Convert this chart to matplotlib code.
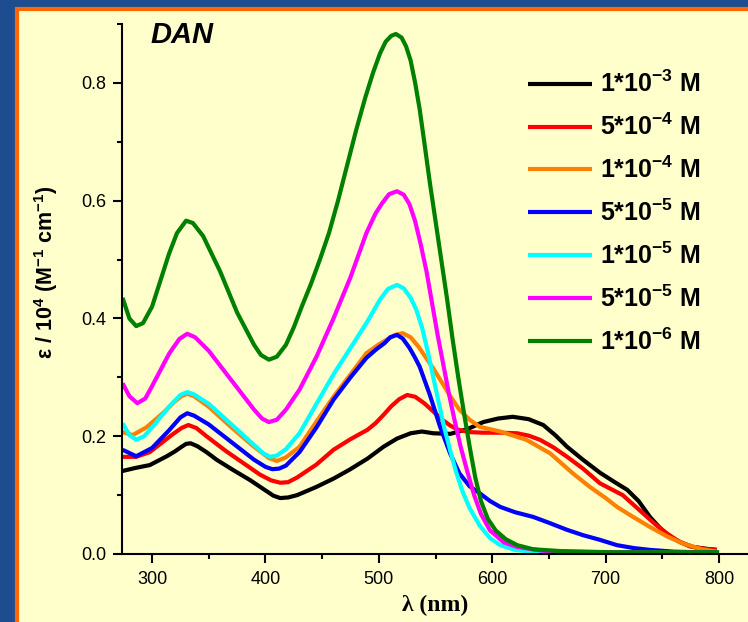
import numpy as np
import matplotlib
matplotlib.use("Agg")
import matplotlib.pyplot as plt
from matplotlib.patches import Rectangle
from matplotlib.ticker import MultipleLocator

plt.rcParams['font.family'] = ['Liberation Sans', 'DejaVu Sans']
plt.rcParams['mathtext.fontset'] = 'custom'
plt.rcParams['mathtext.rm'] = 'Liberation Sans'
plt.rcParams['mathtext.bf'] = 'Liberation Sans:bold'
plt.rcParams['mathtext.default'] = 'bf'

#===========================================
# spectra (wavelength in nm, eps / 10^4)
wl_1e3 = [274, 285, 298, 313, 320, 326, 330, 334, 340, 348, 357, 372, 386, 400, 407, 413, 420,
          428, 445, 460, 474, 490, 504, 516, 528, 538, 548, 563, 578, 592, 605, 618, 632, 645,
          656, 666, 680, 695, 708, 719, 729, 739, 748, 757, 767, 777, 788, 798]
eps_1e3 = [0.141, 0.146, 0.151, 0.166, 0.174, 0.182, 0.187, 0.188, 0.183, 0.173, 0.160, 0.142,
           0.126, 0.108, 0.099, 0.095, 0.096, 0.100, 0.114, 0.128, 0.143, 0.162, 0.182, 0.196,
           0.205, 0.208, 0.205, 0.204, 0.212, 0.224, 0.230, 0.233, 0.229, 0.219, 0.201, 0.182,
           0.160, 0.138, 0.122, 0.109, 0.090, 0.063, 0.044, 0.029, 0.019, 0.012, 0.009, 0.007]

wl_5e4 = [274, 286, 298, 308, 318, 326, 332, 339, 348, 365, 380, 395, 405, 413, 420, 428, 445,
          460, 475, 490, 497, 504, 511, 518, 525, 532, 540, 548, 556, 563, 570, 580, 592, 607,
          622, 632, 642, 654, 666, 680, 695, 715, 733, 744, 754, 764, 774, 786, 798]
eps_5e4 = [0.165, 0.165, 0.173, 0.188, 0.203, 0.214, 0.219, 0.214, 0.200, 0.175, 0.155, 0.135,
           0.125, 0.121, 0.122, 0.130, 0.152, 0.177, 0.195, 0.211, 0.222, 0.236, 0.251, 0.263,
           0.270, 0.267, 0.256, 0.242, 0.228, 0.218, 0.211, 0.207, 0.206, 0.206, 0.205, 0.201,
           0.194, 0.181, 0.165, 0.145, 0.120, 0.100, 0.069, 0.050, 0.035, 0.022, 0.013, 0.009,
           0.007]

wl_1e4 = [274, 283, 295, 310, 320, 326, 331, 337, 350, 370, 390, 403, 410, 418, 430, 445, 460,
          475, 489, 500, 507, 514, 521, 528, 535, 542, 548, 556, 564, 571, 580, 589, 607, 630,
          651, 671, 686, 700, 710, 725, 739, 754, 768, 785, 798]
eps_1e4 = [0.207, 0.202, 0.215, 0.240, 0.259, 0.268, 0.272, 0.268, 0.250, 0.215, 0.182, 0.163,
           0.158, 0.164, 0.182, 0.225, 0.267, 0.305, 0.341, 0.356, 0.364, 0.372, 0.375, 0.368,
           0.352, 0.332, 0.315, 0.290, 0.265, 0.245, 0.228, 0.216, 0.208, 0.194, 0.171, 0.137,
           0.114, 0.095, 0.080, 0.062, 0.046, 0.030, 0.018, 0.008, 0.004]

wl_5e5 = [274, 286, 300, 315, 325, 331, 337, 350, 370, 390, 400, 406, 412, 418, 430, 445, 460,
          475, 489, 498, 505, 510, 516, 521, 527, 532, 536, 545, 554, 563, 571, 580, 589, 598,
          607, 620, 636, 650, 666, 680, 695, 710, 725, 739, 760, 780, 798]
eps_5e5 = [0.177, 0.166, 0.180, 0.210, 0.232, 0.239, 0.235, 0.220, 0.190, 0.160, 0.148, 0.144,
           0.145, 0.150, 0.173, 0.215, 0.262, 0.300, 0.333, 0.348, 0.358, 0.368, 0.372, 0.366,
           0.350, 0.333, 0.318, 0.270, 0.216, 0.170, 0.137, 0.115, 0.103, 0.090, 0.080, 0.071,
           0.063, 0.053, 0.041, 0.032, 0.024, 0.015, 0.010, 0.007, 0.004, 0.003, 0.003]

wl_1e5 = [274, 280, 286, 293, 300, 315, 325, 331, 337, 350, 370, 390, 398, 404, 410, 418, 430,
          445, 460, 475, 489, 501, 508, 516, 522, 528, 533, 538, 543, 548, 553, 558, 563, 568,
          574, 580, 589, 598, 607, 620, 640, 700, 800]
eps_1e5 = [0.222, 0.202, 0.194, 0.200, 0.215, 0.250, 0.270, 0.275, 0.271, 0.255, 0.220, 0.185,
           0.171, 0.165, 0.167, 0.178, 0.205, 0.255, 0.305, 0.350, 0.392, 0.432, 0.450, 0.457,
           0.451, 0.435, 0.415, 0.385, 0.345, 0.300, 0.255, 0.212, 0.175, 0.140, 0.105, 0.078,
           0.048, 0.027, 0.015, 0.007, 0.003, 0.002, 0.002]

wl_5e5b = [274, 280, 287, 294, 300, 315, 324, 331, 338, 350, 370, 390, 397, 403, 410, 418, 430,
           445, 460, 475, 489, 497, 503, 509, 516, 522, 527, 532, 537, 542, 547, 552, 557, 562,
           567, 572, 578, 584, 590, 598, 610, 622, 650, 800]
eps_5e5b = [0.290, 0.268, 0.256, 0.264, 0.285, 0.340, 0.365, 0.374, 0.368, 0.345, 0.295, 0.245,
            0.230, 0.224, 0.228, 0.245, 0.279, 0.335, 0.400, 0.470, 0.545, 0.578, 0.596, 0.611,
            0.616, 0.610, 0.594, 0.565, 0.525, 0.480, 0.425, 0.370, 0.320, 0.270, 0.225, 0.183,
            0.140, 0.100, 0.068, 0.040, 0.020, 0.012, 0.004, 0.002]

wl_1e6 = [274, 280, 286, 292, 300, 315, 322, 330, 336, 345, 360, 375, 390, 396, 403, 410, 418,
          425, 432, 440, 448, 456, 464, 472, 480, 488, 495, 501, 506, 511, 515, 520, 524, 528,
          532, 536, 540, 545, 550, 555, 560, 565, 570, 575, 580, 585, 590, 596, 603, 612, 622,
          636, 660, 700, 800]
eps_1e6 = [0.435, 0.400, 0.387, 0.392, 0.420, 0.510, 0.545, 0.566, 0.562, 0.540, 0.480, 0.410,
           0.355, 0.338, 0.330, 0.335, 0.355, 0.385, 0.420, 0.458, 0.500, 0.545, 0.600, 0.660,
           0.720, 0.775, 0.818, 0.850, 0.870, 0.880, 0.883, 0.877, 0.862, 0.838, 0.800, 0.755,
           0.700, 0.630, 0.565, 0.500, 0.435, 0.365, 0.300, 0.240, 0.183, 0.130, 0.090, 0.060,
           0.040, 0.025, 0.015, 0.008, 0.005, 0.003, 0.003]

series = [
    (wl_1e3, eps_1e3, 'black', '1*10$^{-3}$ M'),
    (wl_5e4, eps_5e4, '#ff0000', '5*10$^{-4}$ M'),
    (wl_1e4, eps_1e4, '#ff8000', '1*10$^{-4}$ M'),
    (wl_5e5, eps_5e5, '#0000ff', '5*10$^{-5}$ M'),
    (wl_1e5, eps_1e5, '#00ffff', '1*10$^{-5}$ M'),
    (wl_5e5b, eps_5e5b, '#ff00ff', '5*10$^{-5}$ M'),
    (wl_1e6, eps_1e6, '#008000', '1*10$^{-6}$ M'),
]

#===========================================
W, H = 748, 622
fig = plt.figure(figsize=(W / 100, H / 100), dpi=100)
fig.patch.set_facecolor('#1d4c8f')

# yellow panel with orange border, behind the axes
panel = Rectangle((17 / W, -0.1), 1.2, 1 - 8.5 / H + 0.1, transform=fig.transFigure,
                  facecolor='#ffffcc', edgecolor='#ff6600', linewidth=3, zorder=-10)
fig.patches.append(panel)

ax = fig.add_axes([122 / W, (H - 554) / H, (W - 122) / W, (554 - 24) / H])
ax.set_facecolor('none')

for wl, eps, col, lab in series:
    ax.plot(wl, eps, color=col, lw=3, label=lab, solid_capstyle='butt', solid_joinstyle='round')

ax.set_xlim(273.5, 825.5)
ax.set_ylim(0, 0.9)
ax.spines['top'].set_visible(False)
ax.spines['right'].set_visible(False)
ax.spines['left'].set_linewidth(1.5)
ax.spines['bottom'].set_linewidth(1.5)

ax.xaxis.set_major_locator(MultipleLocator(100))
ax.xaxis.set_minor_locator(MultipleLocator(50))
ax.yaxis.set_major_locator(MultipleLocator(0.2))
ax.yaxis.set_minor_locator(MultipleLocator(0.1))
ax.yaxis.set_major_formatter(matplotlib.ticker.FormatStrFormatter('%.1f'))
ax.tick_params(which='major', direction='out', length=6.5, width=1.5, labelsize=13)
ax.tick_params(which='minor', direction='out', length=3.5, width=1.5)
ax.tick_params(axis='y', pad=5)
ax.tick_params(axis='x', pad=6)

ax.set_xlabel('λ (nm)', family=['Liberation Serif', 'DejaVu Serif'], fontweight='bold',
              fontsize=17)
ax.xaxis.set_label_coords(0.5, -(605 - 554) / 530)
ax.xaxis.label.set_va('center')
ax.set_ylabel('ε / 10$^{4}$ (M$^{-1}$ cm$^{-1}$)', fontweight='bold', fontsize=15.5)
ax.yaxis.set_label_coords((46 - 122) / 626, (554 - 272) / 530)
ax.yaxis.label.set_va('center')

fig.text(150 / W, 1 - 35 / H, 'DAN', fontsize=21, fontweight='bold', style='italic',
         va='center', ha='left')

leg = ax.legend(loc='upper left', bbox_to_anchor=(528 / W, 1 - 71 / H),
                bbox_transform=fig.transFigure, frameon=False, borderaxespad=0,
                borderpad=0, handlelength=2.56, handletextpad=0.32, labelspacing=0.66,
                prop={'weight': 'bold', 'size': 18})
for line in leg.get_lines():
    line.set_linewidth(3)

fig.savefig('out.png', dpi=100, facecolor=fig.get_facecolor())
